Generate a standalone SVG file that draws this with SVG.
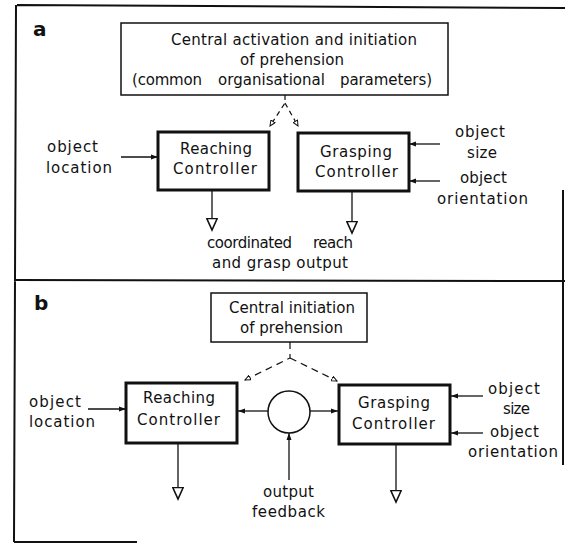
<svg xmlns="http://www.w3.org/2000/svg" width="565" height="544" viewBox="0 0 565 544">
<style>
text{font-family:"DejaVu Sans","Liberation Sans",sans-serif;font-size:15px;fill:#111}
.lbl{font-size:20px;font-weight:bold}
.frame{stroke:#111;stroke-width:2;fill:none}
.box{fill:#fff;stroke:#111;stroke-width:1.5}
.ctl{fill:#fff;stroke:#111;stroke-width:3}
.ln{stroke:#111;stroke-width:1.3;fill:none}
.dash{stroke:#111;stroke-width:1.2;fill:none;stroke-dasharray:5,4}
</style>
<defs>
<marker id="arr" markerUnits="userSpaceOnUse" viewBox="0 0 7 6" markerWidth="7" markerHeight="6" refX="7" refY="3" orient="auto"><path d="M0,0.5 L7,3 L0,5.5 z" fill="#111"/></marker>
<marker id="tri" markerUnits="userSpaceOnUse" viewBox="0 0 14 12" markerWidth="14" markerHeight="12" refX="12.5" refY="6" orient="auto"><path d="M1,0.8 L12.5,6 L1,11.2 z" fill="#fff" stroke="#111" stroke-width="1.6"/></marker>
<marker id="dtri" markerUnits="userSpaceOnUse" viewBox="0 0 7 6" markerWidth="7" markerHeight="6" refX="6" refY="3" orient="auto"><path d="M0.5,0.5 L6,3 L0.5,5.5 z" fill="#fff" stroke="#111" stroke-width="1"/></marker>
</defs>
<g id="frames">
<path class="frame" d="M17,5 L565,8 M16,5 L15,280 M14,280 L565,281 M15,280 L14,542 M14,542 L137,542 M563,190 L563,465"/>
<text class="lbl" x="33" y="36">a</text>
<text class="lbl" x="34" y="310">b</text>
</g>
<g id="connectors">
<path class="dash" d="M285,95 L285,103 L270,126" marker-end="url(#dtri)"/>
<path class="dash" d="M285,103 L298,126" marker-end="url(#dtri)"/>
<line class="ln" x1="121" y1="157" x2="158" y2="157" marker-end="url(#arr)"/>
<line class="ln" x1="440" y1="144" x2="409" y2="144" marker-end="url(#arr)"/>
<line class="ln" x1="440" y1="181" x2="409" y2="181" marker-end="url(#arr)"/>
<line class="ln" x1="212" y1="190" x2="212" y2="230" marker-end="url(#tri)"/>
<line class="ln" x1="352" y1="191" x2="352" y2="233" marker-end="url(#tri)"/>
<path class="dash" d="M290,342 L290,358 L245,380" marker-end="url(#dtri)" style="stroke-dasharray:7,5"/>
<path class="dash" d="M290,358 L337,381" marker-end="url(#dtri)" style="stroke-dasharray:7,5"/>
<line class="ln" x1="88" y1="409" x2="126" y2="409" marker-end="url(#arr)"/>
<line class="ln" x1="483" y1="396" x2="451" y2="396" marker-end="url(#arr)"/>
<line class="ln" x1="483" y1="433" x2="451" y2="433" marker-end="url(#arr)"/>
<line class="ln" x1="268" y1="411" x2="238" y2="411" marker-end="url(#arr)"/>
<line class="ln" x1="310" y1="411" x2="338" y2="411" marker-end="url(#arr)"/>
<line class="ln" x1="289" y1="480" x2="289" y2="433" marker-end="url(#arr)"/>
<line class="ln" x1="178" y1="443" x2="178" y2="499" marker-end="url(#tri)"/>
<line class="ln" x1="396" y1="444" x2="396" y2="502" marker-end="url(#tri)"/>
</g>
<g id="a-central">
<rect class="box" x="121" y="23" width="327" height="72"/>
<text x="171" y="45" textLength="246">Central activation and initiation</text>
<text x="240" y="65" textLength="104">of prehension</text>
<text x="132" y="85" textLength="70">(common</text>
<text x="218" y="85" textLength="107">organisational</text>
<text x="340" y="85" textLength="92">parameters)</text>
</g>
<g id="a-reaching">
<rect class="ctl" x="158" y="132" width="111" height="58"/>
<text x="180" y="154" textLength="72">Reaching</text>
<text x="173" y="174" textLength="84">Controller</text>
</g>
<g id="a-grasping">
<rect class="ctl" x="298" y="133" width="111" height="58"/>
<text x="320" y="157" textLength="72">Grasping</text>
<text x="315" y="177" textLength="83">Controller</text>
</g>
<g id="a-inputs">
<text x="47" y="152" textLength="51">object</text>
<text x="46" y="173" textLength="66">location</text>
<text x="455" y="137" textLength="50">object</text>
<text x="467" y="158" textLength="30">size</text>
<text x="460" y="183" textLength="47">object</text>
<text x="437" y="204" textLength="91">orientation</text>
</g>
<g id="a-output">
<text x="207" y="248" textLength="85">coordinated</text>
<text x="313" y="248" textLength="40">reach</text>
<text x="212" y="268" textLength="136">and grasp output</text>
</g>
<g id="b-central">
<rect class="box" x="211" y="293" width="156" height="49"/>
<text x="229" y="313" textLength="126">Central initiation</text>
<text x="240" y="333" textLength="103">of prehension</text>
</g>
<g id="b-reaching">
<rect class="ctl" x="126" y="383" width="111" height="60"/>
<text x="143" y="403" textLength="72">Reaching</text>
<text x="137" y="425" textLength="83">Controller</text>
</g>
<g id="b-grasping">
<rect class="ctl" x="339" y="385" width="111" height="59"/>
<text x="358" y="408" textLength="72">Grasping</text>
<text x="352" y="429" textLength="83">Controller</text>
</g>
<g id="b-feedback">
<circle cx="289" cy="412" r="21" fill="#fff" stroke="#111" stroke-width="1.5"/>
<text x="263" y="497" textLength="51">output</text>
<text x="252" y="517" textLength="73">feedback</text>
</g>
<g id="b-inputs">
<text x="29" y="407" textLength="52">object</text>
<text x="29" y="427" textLength="66">location</text>
<text x="488" y="394" textLength="52">object</text>
<text x="503" y="414" textLength="27">size</text>
<text x="490" y="437" textLength="49">object</text>
<text x="468" y="457" textLength="90">orientation</text>
</g>
</svg>
